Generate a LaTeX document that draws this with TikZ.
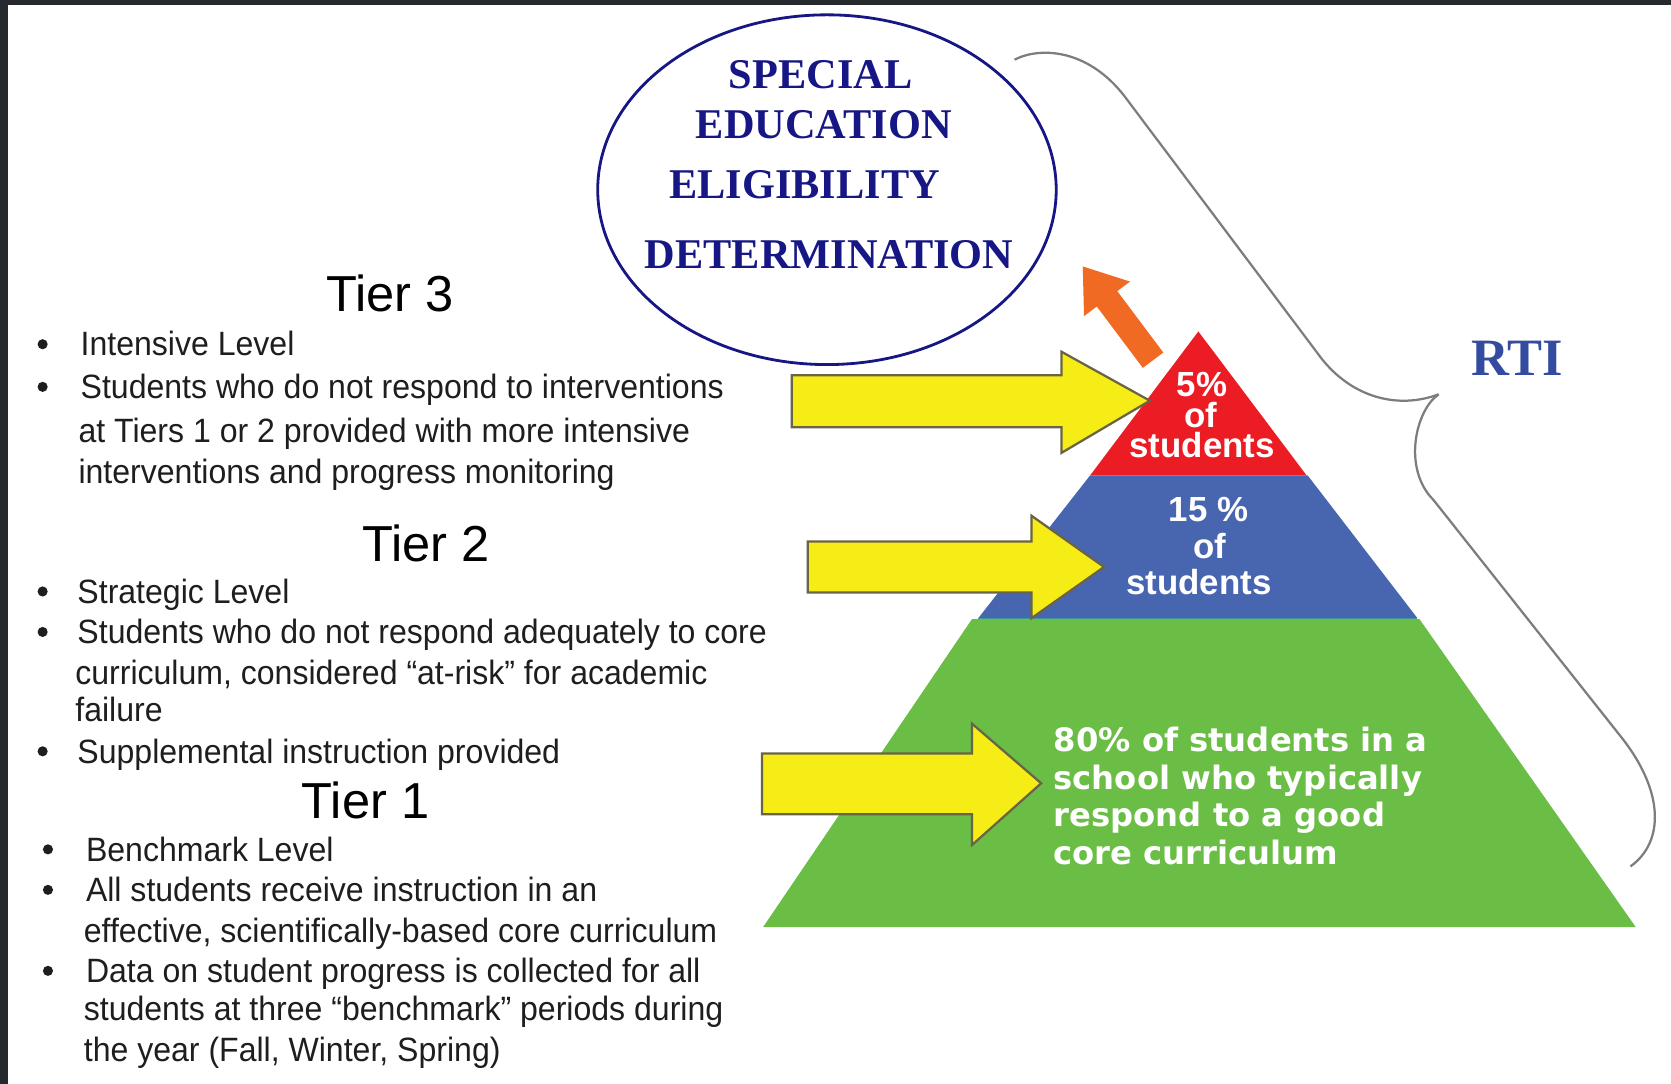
\documentclass[tikz,border=0pt]{standalone}
\usepackage{fontspec}
\setmainfont{Liberation Sans}
\newfontfamily\bodyface[FakeStretch=0.95]{Liberation Sans}
\newfontfamily\titleface{Liberation Serif}
\newfontfamily\wideface{DejaVu Sans}
\usepackage{tikz}
\usetikzlibrary{positioning,shapes.geometric}
\definecolor{navy}{RGB}{22,22,132}
\definecolor{rtiblue}{RGB}{52,76,160}
\definecolor{tierred}{RGB}{236,28,36}
\definecolor{tierblue}{RGB}{72,102,176}
\definecolor{tiergreen}{RGB}{106,189,69}
\definecolor{tealline}{RGB}{60,150,150}
\definecolor{arrowyellow}{RGB}{246,236,22}
\definecolor{arrowedge}{RGB}{105,100,70}
\definecolor{arroworange}{RGB}{240,106,36}
\definecolor{bracegray}{RGB}{125,125,125}
\definecolor{txtgray}{RGB}{30,30,30}
\definecolor{framedark}{RGB}{38,42,46}

\tikzset{
  bodytxt/.style={anchor=base west, inner sep=0pt, text=txtgray, font=\bodyface\fontsize{9}{11}\selectfont},
  tierhead/.style={anchor=base, inner sep=0pt, text=black, font=\fontsize{13.5}{16}\selectfont},
  sptxt/.style={anchor=base, inner sep=0pt, text=navy, font=\titleface\bfseries\fontsize{11.3}{13}\selectfont},
  pyrtxt/.style={anchor=base, inner sep=0pt, text=white, font=\bfseries\fontsize{9.3}{11}\selectfont},
  greentxt/.style={anchor=base west, inner sep=0pt, text=white, font=\wideface\bfseries\fontsize{8.6}{10}\selectfont},
  yarrow/.style={fill=arrowyellow, draw=arrowedge, line width=0.6pt, line join=miter}
}

\begin{document}
\begin{tikzpicture}[x=0.01cm,y=-0.01cm]
  \useasboundingbox (0,0) rectangle (1568,1017);
% dark frame at top and left
  \fill[framedark] (0,0) rectangle (1568,4.7);
  \fill[framedark] (0,0) rectangle (7.5,1017);
% pyramid
  \fill[tiergreen] (912,581) -- (1332,581) -- (1535,870) -- (716,870) -- cycle;
  \fill[tierblue] (1023,446) -- (1227,446) -- (1330,580) -- (918,580) -- cycle;
  \fill[tierred] (1124.5,311) -- (1226,446) -- (1023,446) -- cycle;
  \draw[tealline, line width=0.4pt] (918,580.5) -- (1330,580.5);
  \node[pyrtxt] (redpct) at (1128,372) {5\%};
  \node[pyrtxt] (redof) at (1127,401) {of};
  \node[pyrtxt] (redstu) at (1128,429.5) {students};
  \node[pyrtxt] (bluepct) at (1134,489.5) {15 \%};
  \node[pyrtxt] (blueof) at (1135,523.7) {of};
  \node[pyrtxt] (bluestu) at (1125,558) {students};
  \node[greentxt] (grna) at (988,705) {80\% of students in a};
  \node[greentxt] (grnb) at (988,740.5) {school who typically};
  \node[greentxt] (grnc) at (988,776) {respond to a good};
  \node[greentxt] (grnd) at (988,811.5) {core curriculum};
% yellow arrows
  \draw[yarrow] (743,352) -- (996,352) -- (996,330) -- (1079,376) -- (996,425) -- (996,401) -- (743,401) -- cycle;
  \draw[yarrow] (758,508) -- (968,508) -- (968,484) -- (1036,532) -- (968,580) -- (968,556) -- (758,556) -- cycle;
  \draw[yarrow] (715,707) -- (912,707) -- (912,679) -- (977,735) -- (912,793) -- (912,764) -- (715,764) -- cycle;
% orange arrow
  \fill[arroworange] (1072.4,345.2) -- (1029.2,287.6) -- (1017.2,296.6) -- (1016,250) -- (1060.4,264.2) -- (1048.4,273.2) -- (1091.6,330.8) -- cycle;
% eligibility ellipse
  \node[draw=navy, line width=0.75pt, ellipse, minimum width=4.3cm, minimum height=3.28cm, inner sep=0pt] (sped) at (776,178) {};
  \node[sptxt] (spa) at (770,83) {SPECIAL};
  \node[sptxt] (spb) at (773,130) {EDUCATION};
  \node[sptxt] (spc) at (755,186) {ELIGIBILITY};
  \node[sptxt] (spd) at (778,252) {DETERMINATION};
% RTI brace
  \draw[bracegray, line width=0.6pt] (952,56) .. controls (975,44) and (1020,45) .. (1055,90) -- (1236,331) .. controls (1265,372) and (1310,385) .. (1350,370);
  \draw[bracegray, line width=0.6pt] (1350,370) .. controls (1328,385) and (1316,440) .. (1345,469) -- (1520,690) .. controls (1562,742) and (1562,790) .. (1530,813);
  \node[anchor=base, inner sep=0pt, text=rtiblue, font=\titleface\bfseries\fontsize{14}{16}\selectfont] (rti) at (1424,352) {RTI};
% Tier 3
  \node[tierhead] (t3h) at (366,292) {Tier 3};
  \fill[txtgray] (40,323) circle (1.35pt);
  \fill[txtgray] (40,363) circle (1.35pt);
  \node[bodytxt] (t3a) at (75,334) {Intensive Level};
  \node[bodytxt] (t3b) at (75,374) {Students who do not respond to interventions};
  \node[bodytxt] (t3c) at (73,415) {at Tiers 1 or 2 provided with more intensive};
  \node[bodytxt] (t3d) at (73,454) {interventions and progress monitoring};
% Tier 2
  \node[tierhead] (t2h) at (400,527) {Tier 2};
  \fill[txtgray] (40,555) circle (1.35pt);
  \fill[txtgray] (40,593) circle (1.35pt);
  \fill[txtgray] (40,705) circle (1.35pt);
  \node[bodytxt] (t2a) at (72,566) {Strategic Level};
  \node[bodytxt] (t2b) at (72,604) {Students who do not respond adequately to core};
  \node[bodytxt] (t2c) at (70,642) {curriculum, considered “at-risk” for academic};
  \node[bodytxt] (t2d) at (70,677) {failure};
  \node[bodytxt] (t2e) at (72,716) {Supplemental instruction provided};
% Tier 1
  \node[tierhead] (t1h) at (343,768) {Tier 1};
  \fill[txtgray] (45,797) circle (1.35pt);
  \fill[txtgray] (45,835) circle (1.35pt);
  \fill[txtgray] (45,911) circle (1.35pt);
  \node[bodytxt] (t1a) at (80,808) {Benchmark Level};
  \node[bodytxt] (t1b) at (80,846) {All students receive instruction in an};
  \node[bodytxt] (t1c) at (78,884) {effective, scientifically-based core curriculum};
  \node[bodytxt] (t1d) at (80,922) {Data on student progress is collected for all};
  \node[bodytxt] (t1e) at (78,958) {students at three “benchmark” periods during};
  \node[bodytxt] (t1f) at (78,996) {the year (Fall, Winter, Spring)};
\end{tikzpicture}
\end{document}
